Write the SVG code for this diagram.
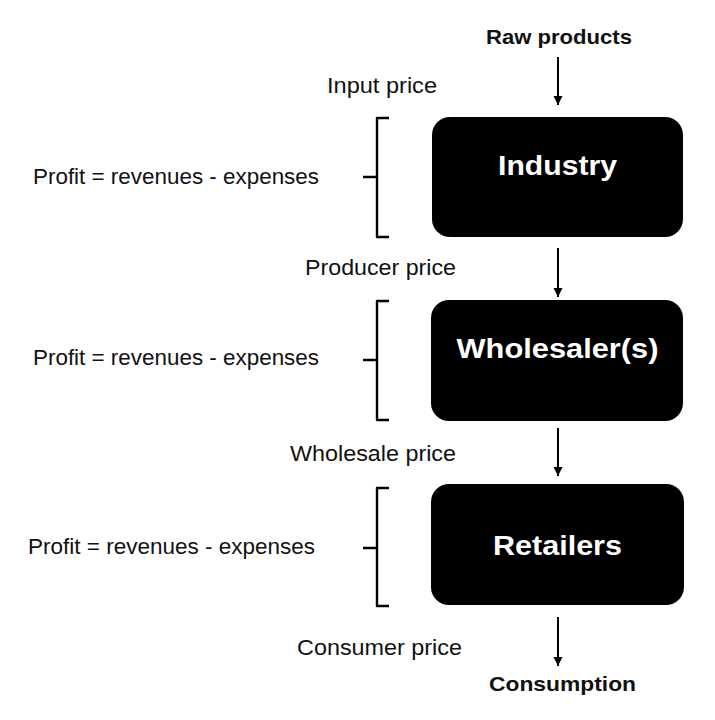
<svg xmlns="http://www.w3.org/2000/svg" width="715" height="720" viewBox="0 0 715 720">
<style>
.box{fill:#000;}
.bt{font-family:"Liberation Sans",Arial,sans-serif;font-weight:bold;font-size:27px;fill:#fff;text-anchor:middle;}
.lbl{font-family:"Liberation Sans",Arial,sans-serif;font-size:22px;fill:#111;}
.end{font-family:"Liberation Sans",Arial,sans-serif;font-weight:bold;font-size:21px;fill:#111;}
.conn{stroke:#000;stroke-width:2;fill:none;}
.br{stroke:#000;stroke-width:2.4;fill:none;stroke-linejoin:round;}
</style>
<defs>
<marker id="ah" markerWidth="10" markerHeight="10" refX="9" refY="5" orient="auto" markerUnits="userSpaceOnUse">
<path d="M0,0.5 L9,5 L0,9.5 Z" fill="#000"/>
</marker>
</defs>
<rect width="715" height="720" fill="#fff"/>
<g id="connectors">
<line class="conn" x1="558" y1="57" x2="558" y2="105" marker-end="url(#ah)"/>
<line class="conn" x1="558" y1="248" x2="558" y2="297" marker-end="url(#ah)"/>
<line class="conn" x1="558" y1="428" x2="558" y2="476" marker-end="url(#ah)"/>
<line class="conn" x1="558" y1="617" x2="558" y2="666" marker-end="url(#ah)"/>
</g>
<g id="raw-products"><text class="end" x="486" y="44" textLength="146" lengthAdjust="spacingAndGlyphs">Raw products</text></g>
<g id="industry">
<rect class="box" x="432" y="117" width="251" height="120" rx="18"/>
<text class="bt" x="557.5" y="175" textLength="119" lengthAdjust="spacingAndGlyphs">Industry</text>
</g>
<g id="wholesalers">
<rect class="box" x="431" y="300" width="252" height="121" rx="18"/>
<text class="bt" x="557.5" y="358" textLength="202" lengthAdjust="spacingAndGlyphs">Wholesaler(s)</text>
</g>
<g id="retailers">
<rect class="box" x="431" y="484" width="253" height="121" rx="18"/>
<text class="bt" x="557.5" y="555" textLength="129" lengthAdjust="spacingAndGlyphs">Retailers</text>
</g>
<g id="consumption"><text class="end" x="489" y="691" textLength="147" lengthAdjust="spacingAndGlyphs">Consumption</text></g>
<g id="price-labels">
<text class="lbl" x="327" y="93" textLength="110" lengthAdjust="spacingAndGlyphs">Input price</text>
<text class="lbl" x="305" y="275" textLength="151" lengthAdjust="spacingAndGlyphs">Producer price</text>
<text class="lbl" x="290" y="461" textLength="166" lengthAdjust="spacingAndGlyphs">Wholesale price</text>
<text class="lbl" x="297" y="655" textLength="165" lengthAdjust="spacingAndGlyphs">Consumer price</text>
</g>
<g id="profit-1">
<path class="br" d="M389,118 L377,118 L377,237 L389,237 M377,177 L363,177"/>
<text class="lbl" x="33" y="184" textLength="286" lengthAdjust="spacingAndGlyphs">Profit = revenues - expenses</text>
</g>
<g id="profit-2">
<path class="br" d="M389,301 L377,301 L377,420 L389,420 M377,360 L363,360"/>
<text class="lbl" x="33" y="365" textLength="286" lengthAdjust="spacingAndGlyphs">Profit = revenues - expenses</text>
</g>
<g id="profit-3">
<path class="br" d="M389,488 L377,488 L377,606 L389,606 M377,548 L363,548"/>
<text class="lbl" x="28" y="554" textLength="287" lengthAdjust="spacingAndGlyphs">Profit = revenues - expenses</text>
</g>
</svg>
